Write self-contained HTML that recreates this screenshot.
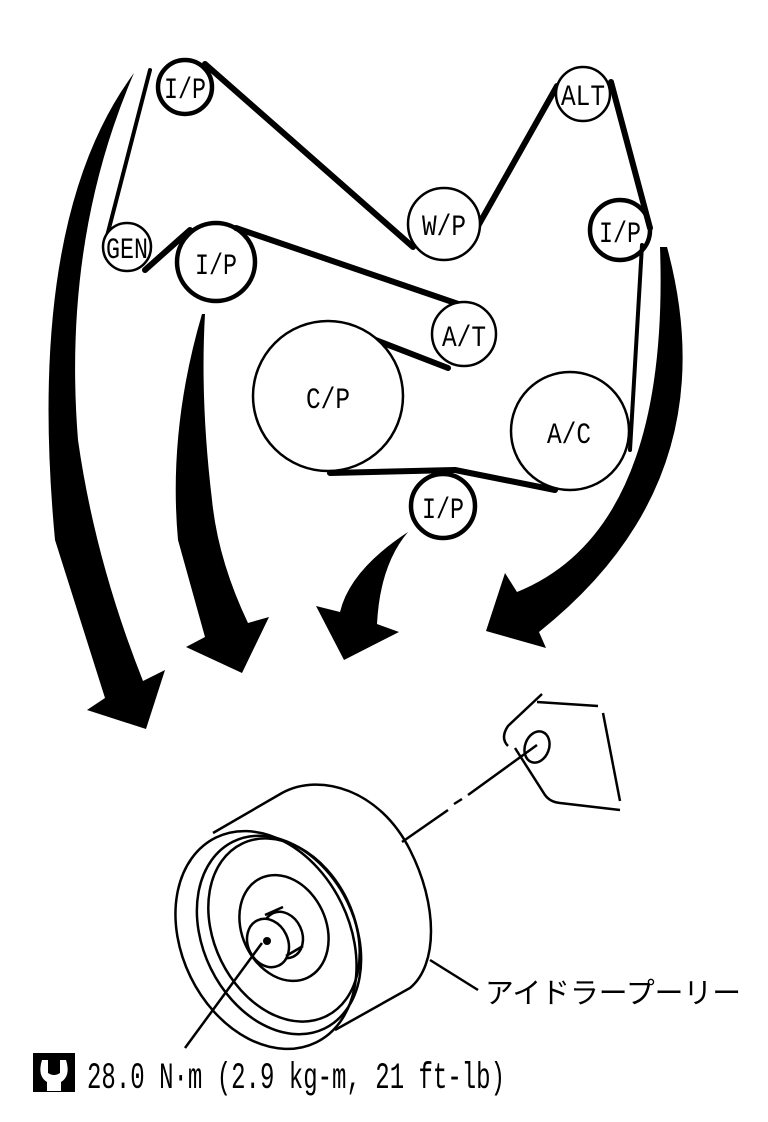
<!DOCTYPE html>
<html><head><meta charset="utf-8"><style>
html,body{margin:0;padding:0;background:#fff;}
svg{display:block;}
text{font-family:"Liberation Mono","Noto Sans CJK JP",monospace;fill:#000;}
</style></head><body>
<svg width="768" height="1122" viewBox="0 0 768 1122" xmlns="http://www.w3.org/2000/svg">
<g fill="none" stroke="#000" stroke-linecap="round" stroke-linejoin="round">
<g stroke-width="6">
<line x1="205" y1="64" x2="413" y2="247"/>
<line x1="478" y1="226" x2="557" y2="86"/>
<line x1="611" y1="82" x2="650" y2="228"/>
<line x1="236" y1="228" x2="470" y2="308"/>
<line x1="190" y1="230" x2="145" y2="270"/>
<line x1="360" y1="334" x2="448" y2="368"/>
<line x1="330" y1="473" x2="455" y2="470"/>
<line x1="455" y1="470" x2="555" y2="490"/>
</g>
<g stroke-width="4">
<line x1="150" y1="70" x2="106" y2="240"/>
<line x1="642" y1="245" x2="630" y2="450"/>
</g>
<g stroke-width="4.5">
<circle cx="185" cy="87" r="27"/>
<circle cx="620" cy="230" r="30"/>
<circle cx="216" cy="262" r="39"/>
<circle cx="443" cy="506" r="32"/>
</g>
<g stroke-width="2.5" fill="#fff">
<circle cx="583" cy="94" r="27"/>
<circle cx="444" cy="224" r="36"/>
<circle cx="127" cy="247" r="24"/>
<circle cx="464" cy="334" r="32"/>
<circle cx="328" cy="396" r="75"/>
<circle cx="570" cy="431" r="59"/>
</g>
</g>
<g font-size="30" text-anchor="middle">
<text x="185" y="98" textLength="42" lengthAdjust="spacingAndGlyphs">I/P</text>
<text x="583" y="105" textLength="44" lengthAdjust="spacingAndGlyphs">ALT</text>
<text x="444" y="235" textLength="44" lengthAdjust="spacingAndGlyphs">W/P</text>
<text x="620" y="242" textLength="42" lengthAdjust="spacingAndGlyphs">I/P</text>
<text x="127" y="258" textLength="42" lengthAdjust="spacingAndGlyphs">GEN</text>
<text x="216" y="274" textLength="42" lengthAdjust="spacingAndGlyphs">I/P</text>
<text x="464" y="346" textLength="44" lengthAdjust="spacingAndGlyphs">A/T</text>
<text x="328" y="408" textLength="44" lengthAdjust="spacingAndGlyphs">C/P</text>
<text x="569" y="443" textLength="44" lengthAdjust="spacingAndGlyphs">A/C</text>
<text x="443" y="518" textLength="42" lengthAdjust="spacingAndGlyphs">I/P</text>
</g>
<g fill="#000">
<path d="M134,73 Q25,220 55,540 L105,698 L87,710 L146,729 L165,670 L143,681 Q95,560 78,440 Q62,240 134,73 Z"/>
<path d="M202,314 Q168,430 178,540 L205,637 L186,647 L242,673 L269,617 L248,623 Q218,560 212,500 Q200,400 205,314 Z"/>
<path d="M408,532 Q350,570 340,612 L316,606 L344,660 L399,632 L377,624 Q380,565 408,532 Z"/>
<path d="M667,247 Q730,480 539,632 L546,648 L486,631 L505,573 L517,592 Q670,530 660,247 Z"/>
</g>
<g fill="none" stroke="#000" stroke-width="2.5">
<path d="M213,833 L282,793 C320,772 380,790 410,850 C438,905 438,965 410,988 L335,1030"/>
<ellipse cx="266" cy="940" rx="84" ry="114" transform="rotate(-26 266 940)" fill="#fff"/>
<ellipse cx="279" cy="935" rx="76" ry="104" transform="rotate(-26 279 935)"/>
<ellipse cx="284" cy="930" rx="70" ry="96" transform="rotate(-26 284 930)"/>
<ellipse cx="284" cy="928" rx="42" ry="55" transform="rotate(-25 284 928)"/>
<ellipse cx="283" cy="935" rx="19" ry="24" transform="rotate(-25 283 935)"/>
<ellipse cx="268" cy="943" rx="20" ry="25" transform="rotate(-25 268 943)" fill="#fff"/>
<line x1="265" y1="915" x2="283" y2="907"/>
<line x1="286" y1="956" x2="303" y2="946"/>
<line x1="262" y1="943" x2="185" y2="1048"/>
<line x1="430" y1="960" x2="478" y2="990"/>
<line x1="402" y1="842" x2="448" y2="810"/>
<line x1="454" y1="804" x2="462" y2="799"/>
<line x1="468" y1="795" x2="537" y2="745"/>
<path d="M542,694 L508,726 Q500,738 508,746"/>
<path d="M515,748 L545,795 Q550,802 560,803 L620,810"/>
<path d="M537,702 L598,706"/>
<path d="M603,713 L620,801"/>
<ellipse cx="537" cy="747" rx="12" ry="16" transform="rotate(20 537 747)"/>
</g>
<circle cx="267" cy="941" r="4" fill="#000"/>
<text x="485" y="1003" font-size="29" textLength="256" lengthAdjust="spacingAndGlyphs" font-family="'Noto Sans CJK JP',sans-serif">アイドラープーリー</text>
<rect x="33" y="1053" width="42" height="39" fill="#000"/>
<path d="M42,1060 Q37,1076 47,1082 L47,1091 L61,1091 L61,1082 Q71,1076 66,1060 L60,1060 L60,1073 Q54,1077 48,1073 L48,1060 Z" fill="#fff"/>
<text x="87" y="1088" font-size="37" textLength="418" lengthAdjust="spacingAndGlyphs">28.0 N·m (2.9 kg-m, 21 ft-lb)</text>
</svg>
</body></html>
